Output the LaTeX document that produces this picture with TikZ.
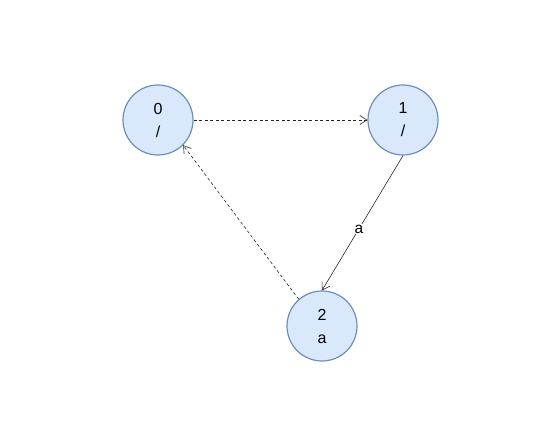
\documentclass[tikz,border=0pt]{standalone}
\usepackage{fontspec}
\setmainfont{Liberation Sans}
\usetikzlibrary{arrows.meta}
\definecolor{nfill}{HTML}{DAE8FC}
\definecolor{ndraw}{HTML}{6C8EBF}
\tikzset{
  state/.style={circle,draw=ndraw,fill=nfill,line width=1.2pt,minimum size=70pt,inner sep=0pt,align=center,font=\fontsize{16}{23}\selectfont},
  edge/.style={draw=black!85,line width=0.6pt,-{Straight Barb[length=7pt,width=9pt]}},
  dashedge/.style={dash pattern=on 3pt off 2.5pt},
  elabel/.style={fill=white,inner sep=1pt,font=\fontsize{15.5}{18}\selectfont}
}
\begin{document}
\begin{tikzpicture}[x=1pt,y=-1pt]
\useasboundingbox (0,0) rectangle (549,433);
\node[state] (n0) at (158,120) {0\\/};
\node[state] (n1) at (403,120) {1\\/};
\node[state] (n2) at (322,326) {2\\a};
\draw[edge,dashedge] (n0.east) -- (n1.west);
\draw[edge] (n1.south) -- node[elabel,pos=0.545] {a} (n2.north);
\draw[edge,dashedge] (n2.131) -- (n0.-45);
\end{tikzpicture}
\end{document}
